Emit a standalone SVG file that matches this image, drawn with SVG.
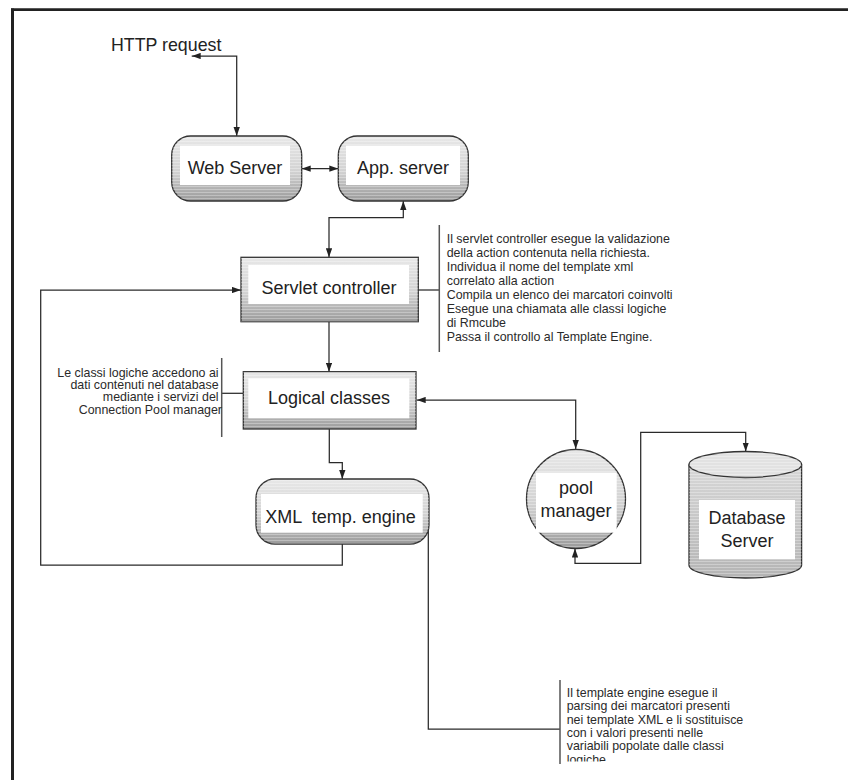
<svg xmlns="http://www.w3.org/2000/svg" width="848" height="780" viewBox="0 0 848 780">
<style>
.conn{fill:none;stroke:#2a2a2a;stroke-width:1.25}
.bar{fill:none;stroke:#555;stroke-width:1.5}
.node{stroke:#333;stroke-width:1.3}
.inner{fill:#fff}
.lbl{font-family:"Liberation Sans",Arial,sans-serif;font-size:18px;fill:#222;text-anchor:middle}
.note{font-family:"Liberation Sans",Arial,sans-serif;font-size:12.4px;fill:#2a2a2a}
.title{font-family:"Liberation Sans",Arial,sans-serif;font-size:17.8px;fill:#222}
</style>
<defs>
<linearGradient id="shade" x1="0" y1="0" x2="0" y2="1">
<stop offset="0" stop-color="#e8e8e8"/>
<stop offset="0.55" stop-color="#d2d2d2"/>
<stop offset="1" stop-color="#9a9a9a"/>
</linearGradient>
<linearGradient id="dbshade" x1="0" y1="0" x2="0" y2="1">
<stop offset="0" stop-color="#d8d8d8"/>
<stop offset="1" stop-color="#b4b4b4"/>
</linearGradient>
<pattern id="stripes" width="4" height="3" patternUnits="userSpaceOnUse">
<rect width="4" height="1" fill="#fff" opacity="0.3"/>
</pattern>
<marker id="arr" viewBox="0 0 10 7" refX="10" refY="3.5" markerWidth="9" markerHeight="6.5" markerUnits="userSpaceOnUse" orient="auto-start-reverse">
<path d="M0,0 L10,3.5 L0,7 z" fill="#222"/>
</marker>
<clipPath id="clipNote"><rect x="540" y="670" width="300" height="91.5"/></clipPath>
</defs>

<g id="frame">
<line x1="11" y1="9.7" x2="848" y2="9.7" stroke="#222" stroke-width="2.8"/>
<line x1="12.5" y1="8.5" x2="12.5" y2="780" stroke="#222" stroke-width="3"/>
</g>

<g id="connectors">
<polyline class="conn" points="191.7,56 236.7,56 236.7,136" marker-start="url(#arr)" marker-end="url(#arr)"/>
<line class="conn" x1="301.7" y1="168.7" x2="338.3" y2="168.7" marker-start="url(#arr)" marker-end="url(#arr)"/>
<polyline class="conn" points="329,257.3 329,217.7 403.3,217.7 403.3,201" marker-start="url(#arr)" marker-end="url(#arr)"/>
<line class="conn" x1="329" y1="321.7" x2="329" y2="371.7" marker-end="url(#arr)"/>
<polyline class="conn" points="329.3,429 329.3,462.7 342.3,462.7 342.3,479" marker-end="url(#arr)"/>
<polyline class="conn" points="342.3,544 342.3,565 40.7,565 40.7,290 241,290" marker-end="url(#arr)"/>
<polyline class="conn" points="416.7,400 575.7,400 575.7,449" marker-start="url(#arr)" marker-end="url(#arr)"/>
<polyline class="conn" points="575,548.5 575,563.3 640.7,563.3 640.7,432.3 745.7,432.3 745.7,451.5" marker-start="url(#arr)" marker-end="url(#arr)"/>
<line class="conn" x1="418.3" y1="290" x2="439.3" y2="290"/>
<line class="conn" x1="221.7" y1="393.3" x2="243.3" y2="393.3"/>
<polyline class="conn" points="428.3,511 428.3,729 560,729"/>
</g>

<g id="http-request">
<text class="title" x="111" y="50.5">HTTP request</text>
</g>

<g id="web-server">
<rect class="node" x="171.7" y="136" width="130" height="65" rx="19" fill="url(#shade)"/>
<rect x="171.7" y="136" width="130" height="65" rx="19" fill="url(#stripes)"/>
<rect class="inner" x="180" y="145.7" width="110" height="39.3"/>
<text class="lbl" x="235" y="173.5">Web Server</text>
</g>

<g id="app-server">
<rect class="node" x="338.3" y="136" width="130" height="65" rx="19" fill="url(#shade)"/>
<rect x="338.3" y="136" width="130" height="65" rx="19" fill="url(#stripes)"/>
<rect class="inner" x="346" y="145.7" width="114" height="39.3"/>
<text class="lbl" x="403" y="173.5">App. server</text>
</g>

<g id="servlet-controller">
<rect class="node" x="241" y="257.3" width="177.3" height="64.4" fill="url(#shade)"/>
<rect x="241" y="257.3" width="177.3" height="64.4" fill="url(#stripes)"/>
<rect class="inner" x="248.3" y="265" width="160.7" height="39"/>
<text class="lbl" x="329" y="294">Servlet controller</text>
</g>

<g id="servlet-note">
<line class="bar" x1="439.3" y1="225" x2="439.3" y2="352"/>
<text class="note" x="446.7">
<tspan x="446.7" y="243">Il servlet controller esegue la validazione</tspan>
<tspan x="446.7" y="257">della action contenuta nella richiesta.</tspan>
<tspan x="446.7" y="271">Individua il nome del template xml</tspan>
<tspan x="446.7" y="285">correlato alla action</tspan>
<tspan x="446.7" y="299">Compila un elenco dei marcatori coinvolti</tspan>
<tspan x="446.7" y="313">Esegue una chiamata alle classi logiche</tspan>
<tspan x="446.7" y="327">di Rmcube</tspan>
<tspan x="446.7" y="341">Passa il controllo al Template Engine.</tspan>
</text>
</g>

<g id="logical-classes">
<rect class="node" x="243.3" y="371.7" width="172.7" height="57.3" fill="url(#shade)"/>
<rect x="243.3" y="371.7" width="172.7" height="57.3" fill="url(#stripes)"/>
<rect class="inner" x="248.3" y="378.3" width="161" height="40"/>
<text class="lbl" x="329" y="404.3">Logical classes</text>
</g>

<g id="logical-note">
<line class="bar" x1="221.7" y1="358" x2="221.7" y2="437"/>
<text class="note" text-anchor="end" font-size="11.9">
<tspan x="222" y="376.7">Le classi logiche accedono ai</tspan>
<tspan x="222" y="389">dati contenuti nel database</tspan>
<tspan x="222" y="401.3">mediante i servizi del</tspan>
<tspan x="222" y="413.6">Connection Pool manager</tspan>
</text>
</g>

<g id="xml-engine">
<rect class="node" x="256" y="479" width="173" height="65" rx="19" fill="url(#shade)"/>
<rect x="256" y="479" width="173" height="65" rx="19" fill="url(#stripes)"/>
<rect class="inner" x="261" y="494" width="161.7" height="38.7"/>
<text class="lbl" x="340.5" y="523.3" xml:space="preserve">XML  temp. engine</text>
</g>

<g id="xml-note">
<line class="bar" x1="560" y1="680" x2="560" y2="764"/>
<g clip-path="url(#clipNote)">
<text class="note" font-size="12">
<tspan x="566.7" y="697">Il template engine esegue il</tspan>
<tspan x="566.7" y="710.3">parsing dei marcatori presenti</tspan>
<tspan x="566.7" y="723.6">nei template XML e li sostituisce</tspan>
<tspan x="566.7" y="736.9">con i valori presenti nelle</tspan>
<tspan x="566.7" y="750.2">variabili popolate dalle classi</tspan>
<tspan x="566.7" y="763.5">logiche</tspan>
</text>
</g>
</g>

<g id="pool-manager">
<circle class="node" cx="576" cy="499" r="49.5" fill="url(#shade)"/>
<circle cx="576" cy="499" r="49.5" fill="url(#stripes)"/>
<rect class="inner" x="536" y="472.7" width="80.7" height="60"/>
<text class="lbl" x="576" y="493.5">pool</text>
<text class="lbl" x="576" y="516.7">manager</text>
</g>

<g id="database-server">
<path class="node" d="M689,464.5 L689,565 A56.3,13 0 0 0 801.6,565 L801.6,464.5" fill="url(#dbshade)"/>
<path d="M689,464.5 L689,565 A56.3,13 0 0 0 801.6,565 L801.6,464.5 z" fill="url(#stripes)"/>
<ellipse class="node" cx="745.3" cy="464.5" rx="56.3" ry="13" fill="#e2e2e2"/>
<ellipse cx="745.3" cy="464.5" rx="56.3" ry="13" fill="url(#stripes)"/>
<rect class="inner" x="699" y="500" width="96" height="59.3"/>
<text class="lbl" x="747" y="523.5">Database</text>
<text class="lbl" x="747" y="547">Server</text>
</g>
</svg>
